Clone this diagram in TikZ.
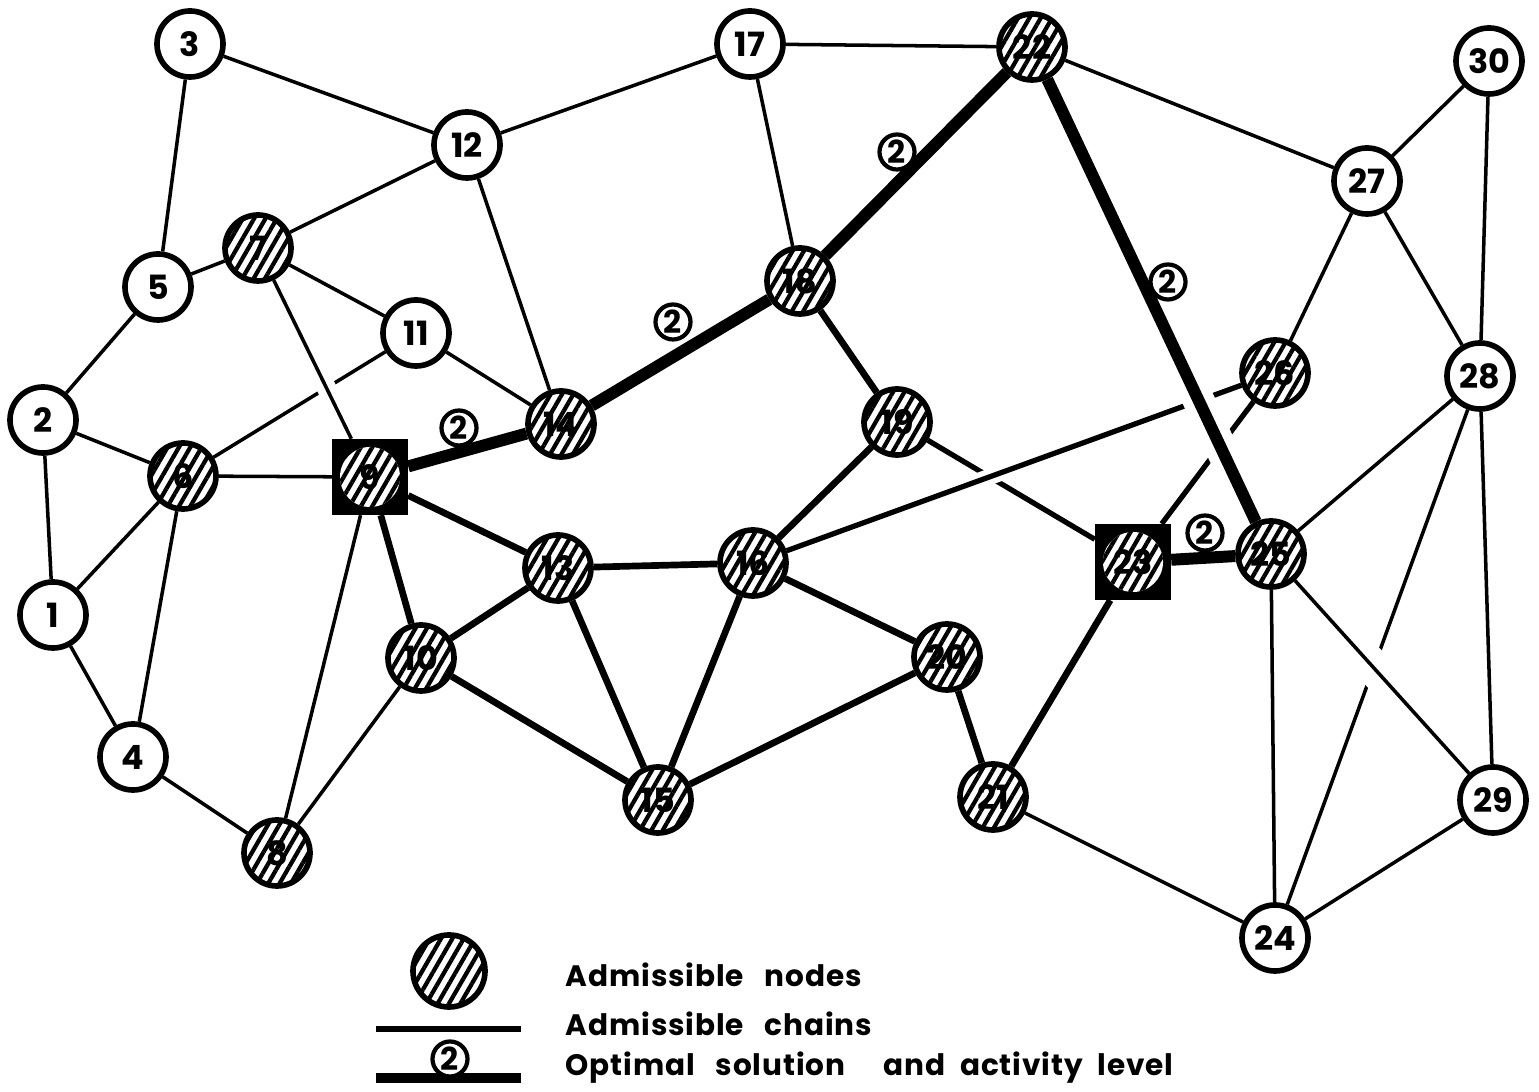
\documentclass[tikz,border=0pt]{standalone}
\usepackage{fontspec}
\setmainfont{Poppins}
\newfontfamily\legfont{Poppins}[LetterSpace=3]
\usetikzlibrary{patterns.meta}
\pgfdeclarelayer{bg}
\pgfsetlayers{bg,main}
\tikzset{
  x=0.01cm, y=-0.01cm,
  plain/.style={circle, draw, line width=1.6pt, fill=white, minimum size=0.66cm,
    inner sep=0pt, font=\bfseries\fontsize{9.5}{9.5}\selectfont},
  hatch/.style={postaction={pattern={Lines[angle=60,distance=2.8pt,line width=1.2pt]}}},
  adm/.style={plain, hatch},
  sqbox/.style={rectangle, fill=black, minimum size=0.75cm, inner sep=0pt},
  sqin/.style={circle, fill=white, hatch, minimum size=0.6cm, inner sep=0pt,
    font=\bfseries\fontsize{9.5}{9.5}\selectfont},
  ethin/.style={line width=1pt},
  emid/.style={line width=1.5pt},
  eadm/.style={line width=1.9pt},
  eopt/.style={line width=3.4pt},
  gapover/.style={preaction={draw=white, line width=#1}},
  lvl/.style={circle, draw, line width=1.2pt, fill=white, minimum size=0.35cm,
    inner sep=0pt, font=\bfseries\fontsize{9}{9}\selectfont},
  legtext/.style={anchor=west, inner sep=0pt, font=\legfont\bfseries\fontsize{8.4}{10}\selectfont},
}
\begin{document}
\begin{tikzpicture}
\useasboundingbox (0,0) rectangle (1539,1092);
% nodes
\node[plain] (n1) at (53,615) {1};
\node[plain] (n2) at (43,420) {2};
\node[plain] (n3) at (190,44) {3};
\node[plain] (n4) at (133,757) {4};
\node[plain] (n5) at (158,287) {5};
\node[adm] (n6) at (183,476) {6};
\node[adm] (n7) at (258,248) {7};
\node[adm] (n8) at (277,853) {8};
\node[sqbox] (n9) at (370,477) {};
\node[sqin] (n9c) at (n9.center) {9};
\node[adm] (n10) at (421,658) {10};
\node[plain] (n11) at (416,333) {11};
\node[plain] (n12) at (467,145) {12};
\node[adm] (n13) at (558,568) {13};
\node[adm] (n14) at (561,424) {14};
\node[adm] (n15) at (658,800) {15};
\node[adm] (n16) at (753,563) {16};
\node[plain] (n17) at (750,44) {17};
\node[adm] (n18) at (800,281) {18};
\node[adm] (n19) at (897,422) {19};
\node[adm] (n20) at (947,657) {20};
\node[adm] (n21) at (993,797) {21};
\node[adm] (n22) at (1032,47) {22};
\node[sqbox] (n23) at (1133,562) {};
\node[sqin] (n23c) at (n23.center) {23};
\node[plain] (n24) at (1275,938) {24};
\node[adm] (n25) at (1271,554) {25};
\node[adm] (n26) at (1275,373) {26};
\node[plain] (n27) at (1367,181) {27};
\node[plain] (n28) at (1480,376) {28};
\node[plain] (n29) at (1493,800) {29};
\node[plain] (n30) at (1489,61) {30};
% edges
\begin{pgfonlayer}{bg}
% under-lines first
\draw[ethin] (n6) -- (n11);
\draw[emid] (n19) -- (n23);
\draw[emid] (n26) -- (n23);
\draw[ethin] (n28) -- (n24);
% thin lines
\draw[ethin] (n3) -- (n5);
\draw[ethin] (n3) -- (n12);
\draw[ethin] (n12) -- (n17);
\draw[ethin] (n12) -- (n7);
\draw[ethin] (n12) -- (n14);
\draw[ethin] (n17) -- (n22);
\draw[ethin] (n17) -- (n18);
\draw[ethin] (n22) -- (n27);
\draw[ethin] (n27) -- (n30);
\draw[ethin] (n30) -- (n28);
\draw[ethin] (n27) -- (n26);
\draw[ethin] (n27) -- (n28);
\draw[ethin] (n7) -- (n5);
\draw[ethin] (n7) -- (n11);
\draw[ethin] (n11) -- (n14);
\draw[ethin] (n5) -- (n2);
\draw[ethin] (n2) -- (n6);
\draw[ethin] (n2) -- (n1);
\draw[ethin] (n6) -- (n9);
\draw[ethin] (n6) -- (n1);
\draw[ethin] (n6) -- (n4);
\draw[ethin] (n1) -- (n4);
\draw[ethin] (n4) -- (n8);
\draw[ethin] (n9) -- (n8);
\draw[ethin] (n10) -- (n8);
\draw[ethin] (n28) -- (n25);
\draw[ethin] (n28) -- (n29);
\draw[ethin] (n25) -- (n24);
\draw[ethin] (n29) -- (n24);
\draw[ethin] (n21) -- (n24);
% admissible chains
\draw[eadm] (n9) -- (n13);
\draw[eadm] (n9) -- (n10);
\draw[eadm] (n10) -- (n13);
\draw[eadm] (n13) -- (n16);
\draw[eadm] (n13) -- (n15);
\draw[eadm] (n10) -- (n15);
\draw[eadm] (n15) -- (n16);
\draw[eadm] (n16) -- (n19);
\draw[eadm] (n18) -- (n19);
\draw[eadm] (n16) -- (n20);
\draw[eadm] (n20) -- (n15);
\draw[eadm] (n20) -- (n21);
\draw[eadm] (n21) -- (n23);
% over-lines with gaps
\draw[ethin, gapover=5.5pt] (n7) -- (n9);
\draw[emid, gapover=4.6pt] (n16) -- (n26);
\draw[ethin, gapover=10pt] (n25) -- (n29);
% optimal solution
\draw[eopt] (n9) -- (n14);
\draw[eopt] (n14) -- (n18);
\draw[eopt] (n18) -- (n22);
\draw[eopt, gapover=9pt] (n22) -- (n25);
\draw[eopt] (n23) -- (n25);
\end{pgfonlayer}
% activity levels
\node[lvl] (a1) at (459,428) {2};
\node[lvl] (a2) at (673,322) {2};
\node[lvl] (a3) at (897,152) {2};
\node[lvl] (a4) at (1168,282) {2};
\node[lvl] (a5) at (1205,533) {2};
% legend
\node[adm, minimum size=0.72cm] (lg1) at (449,971) {};
\coordinate (lc1) at (376,1029);
\coordinate (lc2) at (521,1029);
\draw[line width=1.7pt] (lc1) -- (lc2);
\coordinate (lo1) at (376,1078);
\coordinate (lo2) at (521,1078);
\draw[line width=2.9pt] (lo1) -- (lo2);
\node[lvl] (lg2) at (450,1059) {2};
\node[legtext] (t1) at (565,975) {Admissible\hspace{0.7em}nodes};
\node[legtext] (t2) at (565,1024) {Admissible\hspace{0.7em}chains};
\node[legtext] (t3) at (565,1068) {Optimal\hspace{0.7em}solution\hspace{1.3em}and\hspace{0.5em}activity\hspace{0.5em}level};
\end{tikzpicture}
\end{document}
